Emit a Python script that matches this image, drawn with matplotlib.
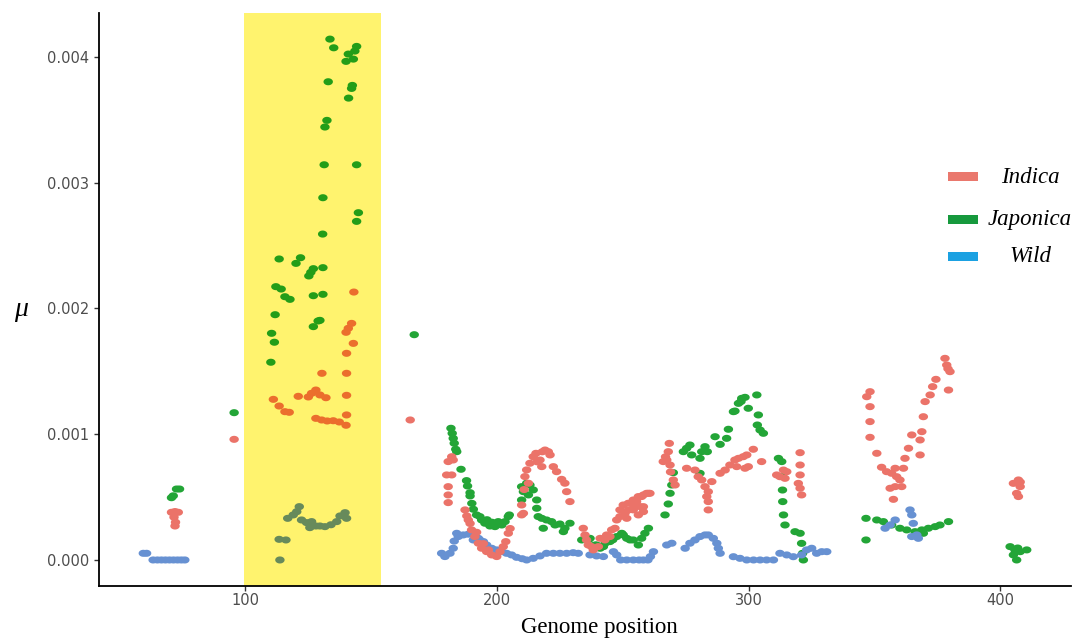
import numpy as np
import matplotlib
matplotlib.use("Agg")
import matplotlib.pyplot as plt
from matplotlib.path import Path
from matplotlib.patches import Rectangle

# ---------------- data (mu values in units of 1e-3) ----------------
MU_UNIT = 1e-3

indica_x = [70.6, 72.0, 73.3, 71.6, 72.2, 72.0,
            95.5,
            111.1, 113.4, 115.7, 117.4, 121.0, 125.0, 126.3, 128.0, 129.6, 132.0, 130.4, 128.0, 130.3,
            132.5, 134.9, 137.3, 140.0, 140.2, 140.2, 140.2, 140.2, 142.9, 140.0, 140.9, 142.2, 143.1,
            165.5,
            180.6, 182.0, 182.6, 180.0, 182.0, 180.6, 180.6, 180.6, 187.3, 188.0, 188.6, 189.9, 191.2,
            192.6, 193.9, 195.9, 197.9, 199.9, 201.2, 202.5, 203.5, 204.5, 205.2, 189.3, 191.9, 194.6, 196.6,
            209.8, 210.5, 209.8, 211.1, 211.8, 213.1, 214.4, 215.5, 217.1, 217.8, 219.1, 220.4, 221.1,
            222.4, 223.7, 225.7, 227.0, 227.7, 229.0, 212.5, 216.0, 218.0, 210.8,
            234.3, 235.0, 235.6, 236.3, 237.6, 238.3, 240.3, 241.0, 242.9, 243.6, 244.9, 245.6, 246.9,
            247.6, 248.9, 248.9, 250.2, 250.9, 251.6, 252.2, 252.2, 254.2, 254.2, 254.2, 255.5, 256.2,
            256.2, 256.9, 257.5, 258.2, 258.2, 258.2, 259.5, 260.2, 260.8,
            266.1, 267.5, 268.1, 268.5, 268.8, 270.1, 270.8, 275.4, 278.7, 280.0, 281.4, 282.7, 284.0,
            283.4, 284.0, 284.0, 285.4, 288.7, 290.7, 292.6, 294.6, 295.3, 296.0, 297.9, 298.6, 299.3,
            299.9, 301.9, 305.2, 267.0, 269.0,
            311.2, 312.5, 313.9, 315.2, 314.5, 320.5, 320.5, 320.5, 319.8, 320.5, 321.1,
            348.3, 347.0, 348.3, 348.3, 348.3, 351.0, 352.9, 354.9, 356.9, 358.3, 358.9, 360.2, 360.9,
            358.3, 356.3, 357.6, 361.6, 362.2, 363.6, 364.9, 368.2, 368.2, 368.9, 369.5, 370.2, 372.2,
            373.2, 374.5, 379.5, 378.1, 378.8, 380.1, 379.3,
            405.3, 407.3, 408.0, 406.6, 407.3, 408.0]
indica_mu = [0.379, 0.385, 0.379, 0.340, 0.300, 0.270,
             0.959,
             1.277, 1.224, 1.179, 1.174, 1.301, 1.296, 1.325, 1.351, 1.312, 1.290, 1.484, 1.126, 1.113,
             1.105, 1.107, 1.097, 1.071, 1.153, 1.309, 1.484, 1.643, 1.722, 1.810, 1.842, 1.881, 2.130,
             1.113,
             0.782, 0.821, 0.795, 0.676, 0.676, 0.583, 0.517, 0.456, 0.398, 0.350, 0.318, 0.239, 0.186,
             0.133, 0.093, 0.066, 0.040, 0.027, 0.066, 0.106, 0.146, 0.212, 0.250, 0.290, 0.220, 0.130, 0.080,
             0.437, 0.371, 0.358, 0.663, 0.716, 0.769, 0.821, 0.848, 0.795, 0.742, 0.874, 0.861, 0.835,
             0.742, 0.702, 0.641, 0.610, 0.543, 0.464, 0.610, 0.780, 0.860, 0.560,
             0.252, 0.199, 0.159, 0.119, 0.106, 0.080, 0.106, 0.172, 0.159, 0.199, 0.186, 0.239, 0.252,
             0.318, 0.345, 0.398, 0.437, 0.371, 0.331, 0.451, 0.397, 0.477, 0.437, 0.398, 0.464, 0.504,
             0.358, 0.424, 0.504, 0.517, 0.424, 0.384, 0.530, 0.530, 0.530,
             0.782, 0.795, 0.861, 0.927, 0.755, 0.636, 0.596, 0.729, 0.715, 0.662, 0.636, 0.583, 0.543,
             0.504, 0.464, 0.398, 0.623, 0.689, 0.715, 0.755, 0.795, 0.742, 0.808, 0.821, 0.729, 0.835,
             0.742, 0.880, 0.782, 0.820, 0.700,
             0.676, 0.662, 0.715, 0.702, 0.649, 0.853, 0.755, 0.676, 0.609, 0.570, 0.517,
             1.338, 1.298, 1.219, 1.100, 0.975, 0.848, 0.737, 0.702, 0.689, 0.729, 0.662, 0.636, 0.583,
             0.583, 0.570, 0.482, 0.729, 0.808, 0.888, 0.994, 0.954, 0.835, 1.020, 1.139, 1.259, 1.312,
             1.378, 1.436, 1.351, 1.603, 1.550, 1.497, 1.520,
             0.609, 0.636, 0.583, 0.530, 0.504, 0.620]

japonica_x = [70.6, 71.3, 72.6, 73.8,
              95.5,
              133.6, 135.1, 144.2, 143.5, 140.9, 142.9, 140.0, 132.9, 142.5, 142.2, 141.0, 132.4, 131.6,
              131.3, 144.2, 130.8, 144.9, 144.2, 130.7, 113.4, 121.9, 120.1, 127.0, 126.0, 125.2, 130.8,
              112.1, 114.2, 115.7, 117.7, 127.0, 130.8, 111.8, 128.9, 127.0, 110.4, 111.5, 110.1, 129.6,
              167.1,
              181.7, 182.2, 182.6, 183.0, 183.6, 184.0, 185.7, 187.9, 188.3, 189.3, 189.3, 190.6, 191.9,
              193.2, 193.9, 195.2, 197.2, 199.2, 200.5, 201.9, 203.2, 204.5, 204.9, 196.0, 198.0, 190.0,
              209.8, 211.8, 213.1, 210.5, 212.5, 209.8, 214.4, 215.8, 215.8, 216.4, 217.8, 219.7, 221.7,
              223.1, 225.0, 227.0, 229.0, 218.4, 226.4,
              233.7, 236.3, 237.0, 239.0, 239.6, 241.0, 242.3, 243.0, 244.9, 246.0, 247.6, 249.6, 250.2,
              251.6, 252.9, 254.2, 256.2, 257.5, 258.8, 260.2,
              266.8, 268.1, 268.8, 269.5, 270.1, 274.1, 275.4, 276.7, 277.4, 280.7, 281.4, 282.7, 283.6,
              280.7, 286.7, 288.7, 291.3, 292.0, 294.0, 294.6, 296.0, 297.3, 298.6, 299.9, 303.3, 303.9,
              303.5, 304.6, 305.9, 297.0,
              311.9, 313.2, 313.6, 313.5, 313.6, 313.9, 314.5, 318.5, 320.5, 321.1, 321.5, 321.8,
              346.7, 346.7, 351.0, 353.6, 356.9, 360.2, 362.9, 366.2, 368.9, 371.5, 374.2, 376.1, 379.5, 369.5,
              404.0, 405.9, 408.0, 410.6, 406.6, 405.3, 407.0]
japonica_mu = [0.495, 0.510, 0.564, 0.564,
               1.171,
               4.141, 4.072, 4.083, 4.046, 4.022, 3.982, 3.964, 3.802, 3.773, 3.749, 3.672, 3.495, 3.442,
               3.142, 3.142, 2.880, 2.761, 2.692, 2.591, 2.393, 2.403, 2.358, 2.316, 2.287, 2.258, 2.324,
               2.173, 2.154, 2.093, 2.072, 2.101, 2.112, 1.950, 1.900, 1.855, 1.802, 1.731, 1.572, 1.905,
               1.791,
               1.047, 1.007, 0.967, 0.928, 0.880, 0.861, 0.721, 0.631, 0.588, 0.535, 0.509, 0.403, 0.358,
               0.345, 0.318, 0.292, 0.270, 0.265, 0.305, 0.278, 0.305, 0.345, 0.358, 0.320, 0.300, 0.450,
               0.583, 0.610, 0.596, 0.543, 0.517, 0.477, 0.557, 0.477, 0.411, 0.345, 0.331, 0.318, 0.305,
               0.278, 0.286, 0.252, 0.292, 0.252, 0.225,
               0.159, 0.159, 0.172, 0.119, 0.119, 0.093, 0.106, 0.133, 0.146, 0.160, 0.186, 0.212, 0.199,
               0.172, 0.159, 0.159, 0.119, 0.172, 0.212, 0.252,
               0.358, 0.445, 0.530, 0.596, 0.694, 0.861, 0.888, 0.914, 0.835, 0.808, 0.861, 0.901, 0.861,
               0.689, 0.980, 0.919, 0.967, 1.039, 1.179, 1.184, 1.245, 1.285, 1.293, 1.206, 1.312, 1.153,
               1.073, 1.033, 1.007, 1.260,
               0.808, 0.782, 0.662, 0.556, 0.464, 0.358, 0.278, 0.225, 0.212, 0.132, 0.053, 0.000,
               0.331, 0.159, 0.318, 0.305, 0.278, 0.252, 0.239, 0.225, 0.239, 0.252, 0.265, 0.278, 0.305, 0.212,
               0.106, 0.080, 0.066, 0.080, 0.000, 0.040, 0.095]

wild_x = [59.4, 60.7, 63.3, 65.0, 66.6, 68.2, 69.8, 71.4, 73.0, 74.5, 75.9,
          121.4, 120.4, 116.8, 119.0, 122.3, 124.3, 126.3, 125.6, 129.6, 131.6, 136.3, 137.6, 139.6,
          140.2, 113.4, 116.1, 113.7, 128.0, 134.0,
          178.0, 179.3, 181.3, 182.6, 183.0, 184.0, 184.6, 186.6, 188.6, 190.6, 192.6, 193.2, 194.6,
          195.9, 197.9, 199.9, 201.9, 203.8, 205.8, 207.8, 210.0, 211.8, 214.4, 217.1, 219.7, 222.4,
          225.0, 227.7, 230.3, 232.3, 237.0, 239.6, 242.3, 246.3, 247.6, 249.2, 251.6, 254.2, 256.5,
          258.2, 260.0, 261.0, 262.2, 267.5, 269.5, 274.8, 276.7, 278.7, 280.7, 282.7, 284.0, 286.0,
          287.4, 288.0, 288.7, 294.0, 296.6, 299.3, 302.0, 304.6, 307.2, 309.9, 312.5, 315.2, 317.8,
          321.1, 323.1, 325.1, 327.1, 329.1, 331.1,
          354.3, 356.3, 358.3, 364.2, 364.9, 365.5, 364.9, 366.9, 367.5]
wild_mu = [0.053, 0.053, 0.0, 0.0, 0.0, 0.0, 0.0, 0.0, 0.0, 0.0, 0.0,
           0.424, 0.384, 0.331, 0.358, 0.318, 0.297, 0.305, 0.257, 0.270, 0.265, 0.305, 0.350, 0.376,
           0.331, 0.164, 0.159, 0.000, 0.270, 0.280,
           0.053, 0.027, 0.053, 0.093, 0.150, 0.212, 0.186, 0.199, 0.205, 0.159, 0.172, 0.159, 0.146,
           0.119, 0.093, 0.080, 0.066, 0.053, 0.040, 0.021, 0.010, 0.000, 0.013, 0.032, 0.053, 0.053,
           0.053, 0.053, 0.058, 0.053, 0.040, 0.032, 0.027, 0.066, 0.040, 0.000, 0.000, 0.000, 0.000,
           0.000, 0.000, 0.027, 0.066, 0.119, 0.133, 0.093, 0.133, 0.159, 0.186, 0.199, 0.199, 0.172,
           0.133, 0.093, 0.053, 0.026, 0.013, 0.0, 0.0, 0.0, 0.0, 0.0, 0.053, 0.040, 0.026,
           0.040, 0.080, 0.093, 0.053, 0.066, 0.066,
           0.252, 0.278, 0.318, 0.398, 0.358, 0.291, 0.186, 0.199, 0.172]

series_names = ["Indica", "Japonica", "Wild"]
x_ticks = [100, 200, 300, 400]
y_ticks = [0.000, 0.001, 0.002, 0.003, 0.004]
y_tick_labels = ["0.000", "0.001", "0.002", "0.003", "0.004"]
band_range = (99.4, 153.9)

# ---------------- styling ----------------
W, H = 1083, 643
point_colors = {"Indica": (235, 115, 105), "Japonica": (35, 165, 55), "Wild": (103, 145, 210)}
legend_colors = {"Indica": "#EA786D", "Japonica": "#16993D", "Wild": "#1BA1E2"}
band_rgb = (255, 243, 110)

def hexc(rgb):
    return tuple(c / 255 for c in rgb)

def colors_for(xs, base):
    out = []
    for xv in xs:
        if band_range[0] <= xv <= band_range[1]:
            out.append(tuple(b * y / 255 / 255 for b, y in zip(base, band_rgb)))
        else:
            out.append(hexc(base))
    return out

# elliptical marker
t = np.linspace(0, 2 * np.pi, 40)
ell = Path(np.column_stack([np.cos(t), 0.75 * np.sin(t)]), closed=True)

fig = plt.figure(figsize=(W / 100, H / 100), dpi=100)
ax = fig.add_axes([99.3 / W, 1 - 586 / H, (1071 - 99.3) / W, (586 - 12.7) / H])
ax.set_xlim(41.9, 428.2)
ax.set_ylim(-0.000207, 0.004351)

ax.axvspan(band_range[0], band_range[1], color=hexc(band_rgb), lw=0, zorder=0)

series = {"Indica": (indica_x, indica_mu), "Japonica": (japonica_x, japonica_mu), "Wild": (wild_x, wild_mu)}
order = ["Japonica", "Wild", "Indica"]
for z, name in enumerate(order):
    xs, ys = series[name]
    ax.scatter(xs, np.array(ys) * MU_UNIT, s=46, marker=ell, c=colors_for(xs, point_colors[name]),
               linewidths=0, zorder=2 + z)

for s in ["top", "right"]:
    ax.spines[s].set_visible(False)
for s in ["left", "bottom"]:
    ax.spines[s].set_linewidth(1.3)
    ax.spines[s].set_color("black")

ax.set_xticks(x_ticks)
ax.set_yticks(y_ticks)
ax.set_yticklabels(y_tick_labels)
ax.tick_params(axis="both", length=3.6, width=1.0, color="#333333", labelcolor="#4D4D4D",
               labelsize=10.5)
ax.tick_params(axis="y", pad=3.5)
ax.tick_params(axis="x", pad=1.5)
for lab in ax.get_xticklabels() + ax.get_yticklabels():
    lab.set_family("DejaVu Sans")

fig.text(599 / W, 1 - 633 / H, "Genome position", family="Liberation Serif", fontsize=16.5,
         ha="center", va="baseline", color="black")
fig.text(21 / W, 1 - 310 / H, "\u03bc", family="Liberation Serif", style="italic", fontsize=20,
         ha="center", va="center", color="black")

leg_y = {"Indica": 176.7, "Japonica": 219.0, "Wild": 256.0}
for name in series_names:
    yc = leg_y[name]
    fig.patches.append(Rectangle((948 / W, 1 - (yc + 4.5) / H), 30 / W, 9 / H,
                                 transform=fig.transFigure, color=legend_colors[name], lw=0))
    fig.text(1030 / W, 1 - (yc + 6) / H, name, family="Liberation Serif", style="italic",
             fontsize=16.5, ha="center", va="baseline", color="black")

fig.savefig("out.png", dpi=100)
